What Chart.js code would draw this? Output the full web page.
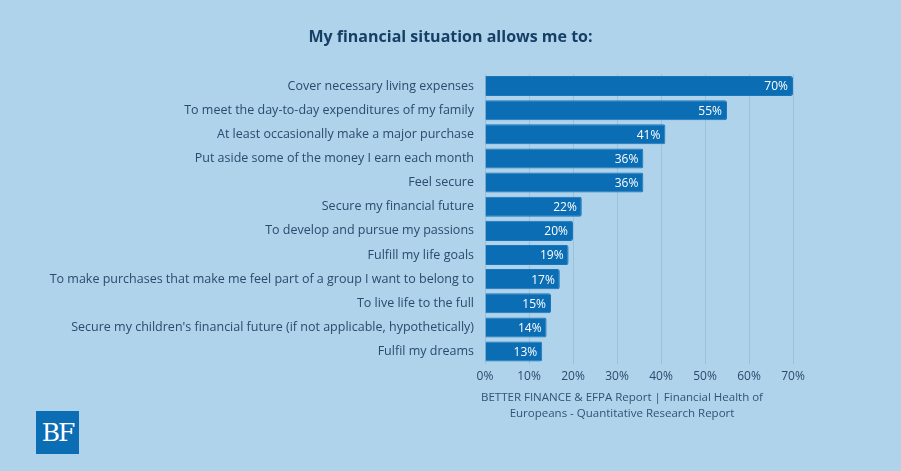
<!DOCTYPE html>
<html>
<head>
<meta charset="utf-8">
<script src="https://cdn.jsdelivr.net/npm/chart.js@4"></script>
<style>
  html, body { margin: 0; padding: 0; background: #aed3eb; }
  #wrap { position: relative; width: 901px; height: 471px; }
  #title {
    position: absolute; left: 0; top: 25px; width: 901px; text-align: center;
    font: bold 16px "Open Sans", sans-serif; color: #173f66;
  }
  #source {
    position: absolute; left: 472px; top: 389px; width: 300px;
    text-align: center; font: 11.5px "Open Sans", sans-serif; color: #2f5478; line-height: 16px;
  }
  #logo {
    position: absolute; left: 36px; top: 411px; width: 43px; height: 43px;
    background: #0b6db4; color: #fff; font: 25px "DejaVu Serif", serif;
    text-align: center; line-height: 43px; letter-spacing: -2px;
  }
</style>
</head>
<body>
<div id="wrap">
  <canvas id="chart" width="901" height="471"></canvas>
  <div id="title">My financial situation allows me to:</div>
  <div id="source">BETTER FINANCE &amp; EFPA Report | Financial Health of Europeans - Quantitative Research Report</div>
  <div id="logo">BF</div>
</div>
<script>
const categories = [
  'Cover necessary living expenses',
  'To meet the day-to-day expenditures of my family',
  'At least occasionally make a major purchase',
  'Put aside some of the money I earn each month',
  'Feel secure',
  'Secure my financial future',
  'To develop and pursue my passions',
  'Fulfill my life goals',
  'To make purchases that make me feel part of a group I want to belong to',
  'To live life to the full',
  "Secure my children's financial future (if not applicable, hypothetically)",
  'Fulfil my dreams'
];
const shares = [70, 55, 41, 36, 36, 22, 20, 19, 17, 15, 14, 13];
const tickValues = [0, 10, 20, 30, 40, 50, 60, 70];

const FONT = '"Open Sans", sans-serif';

/**
 * Writes the percentage inside the end of each bar.
 */
const barLabels = {
  id: 'barLabels',
  afterDatasetsDraw(chart) {
    const ctx = chart.ctx;
    const meta = chart.getDatasetMeta(0);
    ctx.save();
    ctx.font = '12px ' + FONT;
    ctx.fillStyle = '#ffffff';
    ctx.textAlign = 'right';
    ctx.textBaseline = 'middle';
    meta.data.forEach((bar, i) => {
      ctx.fillText(shares[i] + '%', bar.x - 5, bar.y + 1);
    });
    ctx.restore();
  }
};

new Chart(document.getElementById('chart'), {
  type: 'bar',
  data: {
    labels: categories,
    datasets: [{
      data: shares,
      backgroundColor: '#0b6db4',
      borderColor: '#1b76b9',
      borderWidth: 1,
      borderRadius: 2,
      borderSkipped: 'left',
      barPercentage: 0.83,
      categoryPercentage: 1
    }]
  },
  options: {
    indexAxis: 'y',
    responsive: false,
    animation: false,
    layout: { padding: { left: 0, right: 108, top: 74, bottom: 81 } },
    plugins: {
      legend: { display: false },
      tooltip: { enabled: false },
      title: { display: false }
    },
    scales: {
      x: {
        min: 0,
        max: 70,
        afterBuildTicks(scale) {
          scale.ticks = tickValues.map(v => ({ value: v }));
        },
        grid: { color: '#9ac1dd', lineWidth: 1, drawTicks: false },
        border: { display: false },
        ticks: {
          color: '#2c4a6e',
          font: { family: FONT, size: 12 },
          padding: 6,
          callback: v => v + '%'
        }
      },
      y: {
        afterFit(scale) { scale.width = 485; },
        grid: { display: false },
        border: { display: false },
        ticks: {
          color: '#2c4a6e',
          font: { family: FONT, size: 12.5 },
          padding: 3,
          autoSkip: false
        }
      }
    }
  },
  plugins: [barLabels]
});
</script>
</body>
</html>
